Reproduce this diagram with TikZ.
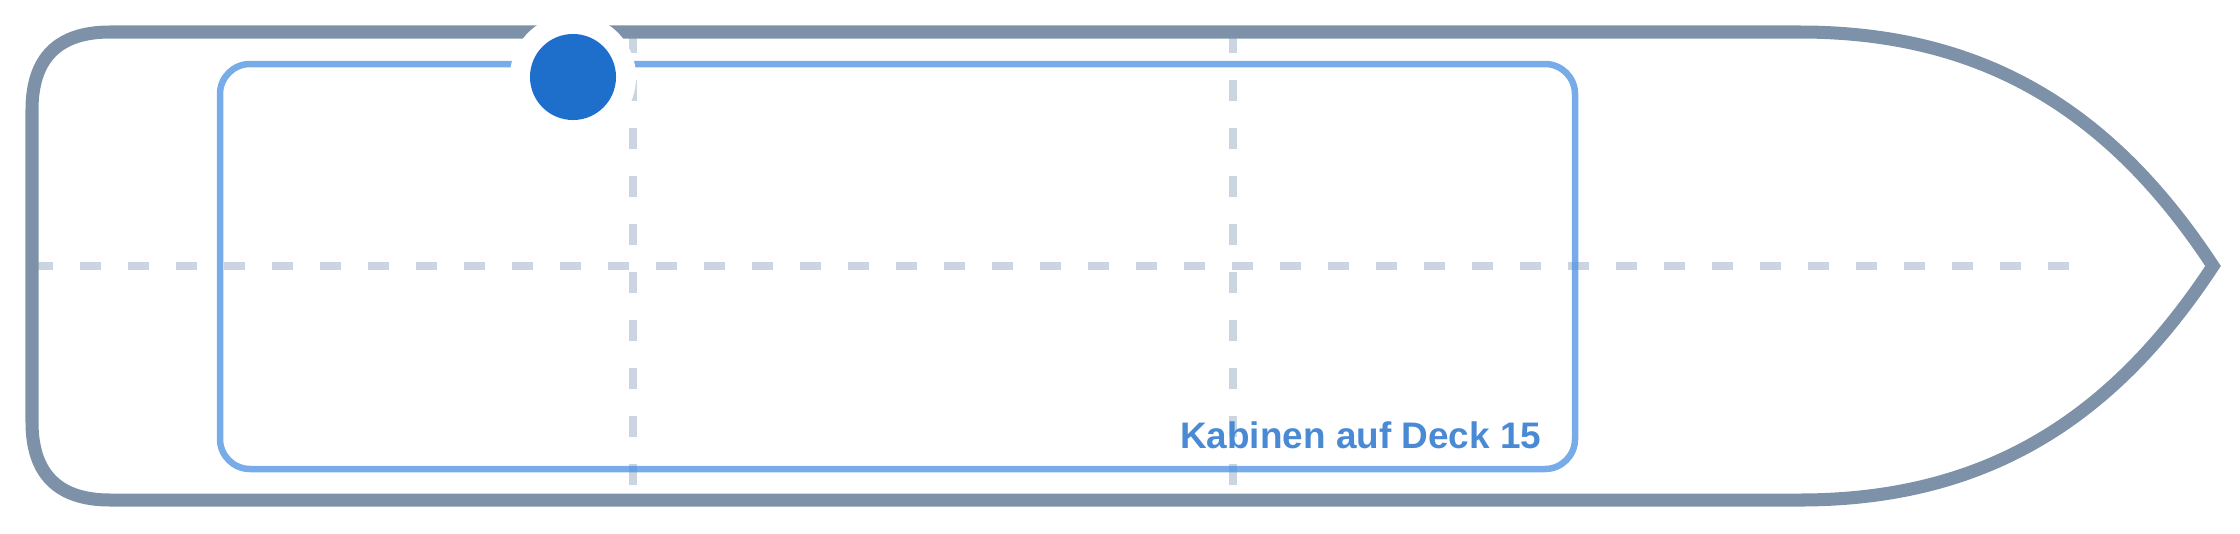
\documentclass[tikz,border=0pt]{standalone}
\usepackage{fontspec}
\setmainfont{Liberation Sans}
\definecolor{hullgray}{HTML}{7D92A8}
\definecolor{cabinblue}{HTML}{4A90E2}
\definecolor{gridslate}{HTML}{CBD5E1}
\definecolor{markerblue}{HTML}{1D6FCB}
\definecolor{labelblue}{HTML}{4A8AD4}

\begin{document}
\begin{tikzpicture}[x=0.01cm, y=-0.01cm]
    \tikzstyle{grid line}=[draw=gridslate, line width=2.3pt, dash pattern=on 6.05pt off 7.6pt]
    \tikzstyle{hull}=[draw=hullgray, line width=3.7pt]
    \tikzstyle{cabin}=[draw=cabinblue, draw opacity=0.75, line width=1.85pt, rounded corners=0.3cm]
    \tikzstyle{deck label}=[text=labelblue, font=\bfseries\fontsize{10.5}{12}\selectfont, inner sep=0pt, anchor=base east]
    \useasboundingbox (0,0) rectangle (2240,533);
    \coordinate (mid west) at (32,266);
    \coordinate (mid east) at (2080,266);
    \coordinate (aft top) at (633,32);
    \coordinate (aft bottom) at (633,500);
    \coordinate (fore top) at (1233,32);
    \coordinate (fore bottom) at (1233,500);
    \draw [grid line] (mid west) -- (mid east);
    \draw [grid line] (aft top) -- (aft bottom);
    \draw [grid line] (fore top) -- (fore bottom);
    \draw [cabin] (220,64) rectangle (1575,469);
    \draw [hull] (110,32) -- (1800,32) .. controls (1990,32) and (2115,117) .. (2213,266)
        .. controls (2115,415) and (1990,500) .. (1800,500) -- (110,500)
        .. controls (58,500) and (32,474) .. (32,422) -- (32,110)
        .. controls (32,58) and (58,32) .. (110,32) -- cycle;
    \node [circle, fill=white, inner sep=0pt, minimum size=1.26cm] (marker halo) at (573,77) {};
    \node [circle, fill=markerblue, inner sep=0pt, minimum size=0.86cm] (marker) at (marker halo) {};
    \node [deck label] (deck) at (1542,448) {Kabinen auf Deck 15};
\end{tikzpicture}
\end{document}
